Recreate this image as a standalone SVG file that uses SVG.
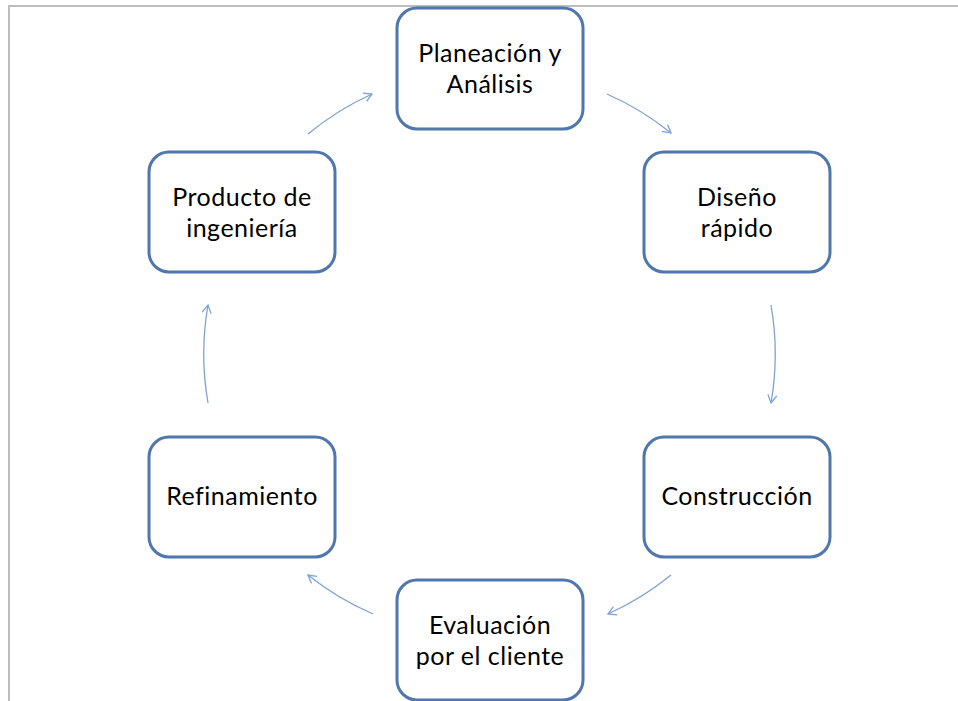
<svg xmlns="http://www.w3.org/2000/svg" width="958" height="701" viewBox="0 0 958 701">
<style>
.box{fill:#fff;stroke:#4f77ae;stroke-width:3}
.lbl{font-family:Lato,"Open Sans","Liberation Sans",sans-serif;font-size:25px;letter-spacing:0.5px;fill:#000;text-anchor:middle}
.arr{fill:none;stroke:#7ea3d3;stroke-width:1.3;marker-end:url(#ah)}
</style>
<defs>
<marker id="ah" markerWidth="12" markerHeight="12" refX="9" refY="5" orient="auto" markerUnits="userSpaceOnUse">
<path d="M1,0.5 L9,5 L1,9.5" fill="none" stroke="#7ea3d3" stroke-width="1.3"/>
</marker>
</defs>
<rect width="958" height="701" fill="#fff"/>
<path d="M9,701 L9,6 L958,6" fill="none" stroke="#bdbdbd" stroke-width="2"/>
<g id="connectors">
<path class="arr" d="M607,94 A285,285 0 0 1 671,133"/>
<path class="arr" d="M771,305 A285,285 0 0 1 771,403"/>
<path class="arr" d="M671,575 A285,285 0 0 1 608,614"/>
<path class="arr" d="M373,614 A285,285 0 0 1 308,575"/>
<path class="arr" d="M208,403 A285,285 0 0 1 208,305"/>
<path class="arr" d="M308,134 A285,285 0 0 1 372,94"/>
</g>
<g id="planeacion">
<rect class="box" x="397" y="8" width="186" height="121" rx="20"/>
<text class="lbl" x="490" y="62">Planeación y</text>
<text class="lbl" x="490" y="93">Análisis</text>
</g>
<g id="diseno">
<rect class="box" x="644" y="152" width="186" height="120" rx="20"/>
<text class="lbl" x="737" y="206">Diseño</text>
<text class="lbl" x="737" y="237">rápido</text>
</g>
<g id="construccion">
<rect class="box" x="644" y="437" width="186" height="120" rx="20"/>
<text class="lbl" x="737" y="505">Construcción</text>
</g>
<g id="evaluacion">
<rect class="box" x="397" y="580" width="186" height="120" rx="20"/>
<text class="lbl" x="490" y="634">Evaluación</text>
<text class="lbl" x="490" y="665">por el cliente</text>
</g>
<g id="refinamiento">
<rect class="box" x="149" y="437" width="186" height="120" rx="20"/>
<text class="lbl" x="242" y="505">Refinamiento</text>
</g>
<g id="producto">
<rect class="box" x="149" y="152" width="186" height="120" rx="20"/>
<text class="lbl" x="242" y="206">Producto de</text>
<text class="lbl" x="242" y="237">ingeniería</text>
</g>
</svg>
